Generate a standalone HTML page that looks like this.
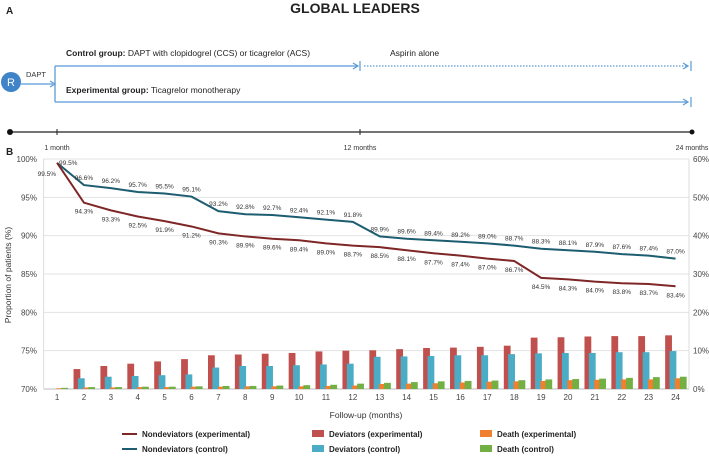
<!DOCTYPE html>
<html><head><meta charset="utf-8"><style>
body{margin:0;background:#fff;width:709px;height:457px;overflow:hidden;font-family:"Liberation Sans",sans-serif}
svg{display:block}
</style></head><body>
<svg width="709" height="457" viewBox="0 0 709 457" xmlns="http://www.w3.org/2000/svg" font-family="Liberation Sans, sans-serif">
<g>
<text x="6" y="14" font-size="10" font-weight="bold" fill="#222">A</text>
<text x="355" y="13" font-size="14" font-weight="bold" fill="#222" text-anchor="middle">GLOBAL LEADERS</text>
<circle cx="11" cy="82" r="10" fill="#3f83c9"/>
<text x="11" y="86" font-size="11" fill="#fff" text-anchor="middle">R</text>
<text x="26" y="77" font-size="7.5" fill="#333">DAPT</text>
<line x1="21" y1="84" x2="53" y2="84" stroke="#5a9ad6" stroke-width="1.3"/>
<path d="M50 81 L55 84 L50 87" fill="none" stroke="#5a9ad6" stroke-width="1.2"/>
<line x1="55" y1="66" x2="55" y2="102" stroke="#5a9ad6" stroke-width="1.3"/>
<line x1="55" y1="66" x2="357" y2="66" stroke="#5a9ad6" stroke-width="1.3"/>
<path d="M353 63 L358 66 L353 69" fill="none" stroke="#5a9ad6" stroke-width="1.2"/>
<line x1="360" y1="61" x2="360" y2="71" stroke="#5a9ad6" stroke-width="1.2"/>
<line x1="364" y1="66" x2="687" y2="66" stroke="#5a9ad6" stroke-width="1.3" stroke-dasharray="1.5,1.5"/>
<path d="M683 63 L688 66 L683 69" fill="none" stroke="#5a9ad6" stroke-width="1.2"/>
<line x1="691" y1="61" x2="691" y2="71" stroke="#5a9ad6" stroke-width="1.2"/>
<line x1="55" y1="102" x2="687" y2="102" stroke="#5a9ad6" stroke-width="1.3"/>
<path d="M683 99 L688 102 L683 105" fill="none" stroke="#5a9ad6" stroke-width="1.2"/>
<line x1="691" y1="97" x2="691" y2="107" stroke="#5a9ad6" stroke-width="1.2"/>
<text x="66" y="56" font-size="8.5" fill="#222"><tspan font-weight="bold">Control group:</tspan> DAPT with clopidogrel (CCS) or ticagrelor (ACS)</text>
<text x="390" y="56" font-size="8.5" fill="#222">Aspirin alone</text>
<text x="66" y="93" font-size="8.5" fill="#222"><tspan font-weight="bold">Experimental group:</tspan> Ticagrelor monotherapy</text>
<line x1="10" y1="132" x2="692" y2="132" stroke="#222" stroke-width="1.3"/>
<circle cx="10" cy="132" r="3" fill="#111"/><circle cx="692" cy="132" r="2.5" fill="#111"/>
<line x1="57" y1="129" x2="57" y2="135" stroke="#222"/><line x1="360" y1="129" x2="360" y2="135" stroke="#222"/>
<text x="57" y="150" font-size="7" fill="#333" text-anchor="middle">1 month</text>
<text x="360" y="150" font-size="7" fill="#333" text-anchor="middle">12 months</text>
<text x="692" y="150" font-size="7" fill="#333" text-anchor="middle">24 months</text>
</g>
<text x="6" y="155" font-size="10" font-weight="bold" fill="#222">B</text>
<g id="chart"></g>
</svg>
<script>
const months=[1,2,3,4,5,6,7,8,9,10,11,12,13,14,15,16,17,18,19,20,21,22,23,24];
const nondevExp=[99.5,94.3,93.3,92.5,91.9,91.2,90.3,89.9,89.6,89.4,89.0,88.7,88.5,88.1,87.7,87.4,87.0,86.7,84.5,84.3,84.0,83.8,83.7,83.4];
const nondevCtl=[99.5,96.6,96.2,95.7,95.5,95.1,93.2,92.8,92.7,92.4,92.1,91.8,89.9,89.6,89.4,89.2,89.0,88.7,88.3,88.1,87.9,87.6,87.4,87.0];
const devExp=[0,5.2,6.0,6.6,7.2,7.8,8.8,9.0,9.2,9.4,9.8,10.0,10.1,10.4,10.7,10.8,11.0,11.3,13.4,13.5,13.7,13.8,13.8,14.0];
const devCtl=[0,2.8,3.2,3.4,3.6,3.8,5.6,6.0,6.0,6.2,6.4,6.6,8.4,8.5,8.6,8.8,8.8,9.1,9.3,9.4,9.4,9.6,9.6,9.9];
const deathExp=[0.2,0.4,0.4,0.5,0.5,0.6,0.6,0.7,0.7,0.7,0.8,0.9,1.3,1.4,1.5,1.7,1.9,2.0,2.1,2.3,2.4,2.5,2.5,2.8];
const deathCtl=[0.3,0.5,0.5,0.6,0.6,0.7,0.8,0.8,0.9,1.0,1.1,1.4,1.6,1.8,2.0,2.1,2.2,2.3,2.5,2.6,2.7,2.9,3.1,3.2];
const leftTicks=[70,75,80,85,90,95,100];
const rightTicks=[0,10,20,30,40,50,60];

const NS='http://www.w3.org/2000/svg';
const g=document.getElementById('chart');
const L=43.6,R=689,T=159,B=389;
const band=(R-L)/months.length;
const x=m=>L+(m-0.5)*band;
const yL=v=>B-(v-70)/30*(B-T);
const yR=v=>B-v/60*(B-T);
function el(t,a,p){const e=document.createElementNS(NS,t);for(const k in a)e.setAttribute(k,a[k]);(p||g).appendChild(e);return e;}
function txt(s,a){const e=el('text',a);e.textContent=s;return e;}

leftTicks.forEach(v=>{
  const ln=el('line',{x1:L,x2:R,y1:yL(v),y2:yL(v),stroke:v===70?'#bbb':'#e3e3e3','stroke-width':1});
  
  
  const t=txt(v+'%',{x:37,y:yL(v)+3,'font-size':8,fill:'#444','text-anchor':'end'});
  
  
});
rightTicks.forEach(v=>{
  const t=txt(v+'%',{x:693,y:yR(v)+3,'font-size':8,fill:'#444'});
  
  
});
el('line',{x1:L,x2:L,y1:T,y2:B,stroke:'#ddd'});
el('line',{x1:R,x2:R,y1:T,y2:B,stroke:'#ddd'});

const series=[[devExp,'#c0504d',-10.4,'bar-deviators-experimental'],[devCtl,'#4bacc6',-6,'bar-deviators-control'],[deathExp,'#f07f2f',-0.7,'bar-death-experimental'],[deathCtl,'#72b043',4.3,'bar-death-control']];
series.forEach(s=>{
  months.forEach((m,i)=>{
    const v=s[0][i]; if(!v) return;
    const r=el('rect',{x:x(m)+s[2],y:yR(v),width:6.8,height:B-yR(v),fill:s[1]});
    
    
  });
});

function line(vals,color,name,dy,anchorFirst,dxFirst,dyFirst){
  const p=el('polyline',{points:months.map((m,i)=>x(m)+','+yL(vals[i])).join(' '),fill:'none',stroke:color,'stroke-width':2});
  
  
  months.forEach((m,i)=>{
    const t=txt(vals[i].toFixed(1)+'%',{x:x(m)+(i===0?dxFirst:0),y:yL(vals[i])+(i===0?dyFirst:dy),'font-size':6.5,fill:'#333','text-anchor':i===0?anchorFirst:'middle'});
    
    
  });
}
line(nondevCtl,'#1d5d70','line-nondeviators-control',-5,'start',2,2);
line(nondevExp,'#7f2727','line-nondeviators-experimental',11,'end',-1,13);

months.forEach(m=>{
  const t=txt(m,{x:x(m),y:400,'font-size':8,fill:'#444','text-anchor':'middle'});
  
  
});
const xt=txt('Follow-up (months)',{x:366,y:418,'font-size':8.5,fill:'#333','text-anchor':'middle'});


const yt=txt('Proportion of patients (%)',{x:0,y:0,'font-size':8.5,fill:'#333','text-anchor':'middle',transform:'translate(11,275) rotate(-90)'});



const legend=[['line','#7f2727','Nondeviators (experimental)',122,437],['line','#1d5d70','Nondeviators (control)',122,452],['box','#c0504d','Deviators (experimental)',312,437],['box','#4bacc6','Deviators (control)',312,452],['box','#f07f2f','Death (experimental)',480,437],['box','#72b043','Death (control)',480,452]];
legend.forEach(l=>{
  const gg=el('g',{});
  
  
  if(l[0]==='line') el('line',{x1:l[3],x2:l[3]+15,y1:l[4]-3,y2:l[4]-3,stroke:l[1],'stroke-width':2},gg);
  else el('rect',{x:l[3],y:l[4]-7,width:12,height:7,fill:l[1]},gg);
  const t=el('text',{x:l[3]+(l[0]==='line'?20:17),y:l[4],'font-size':8,'font-weight':'bold',fill:'#222'},gg);
  t.textContent=l[2];
});
</script>
</body></html>
